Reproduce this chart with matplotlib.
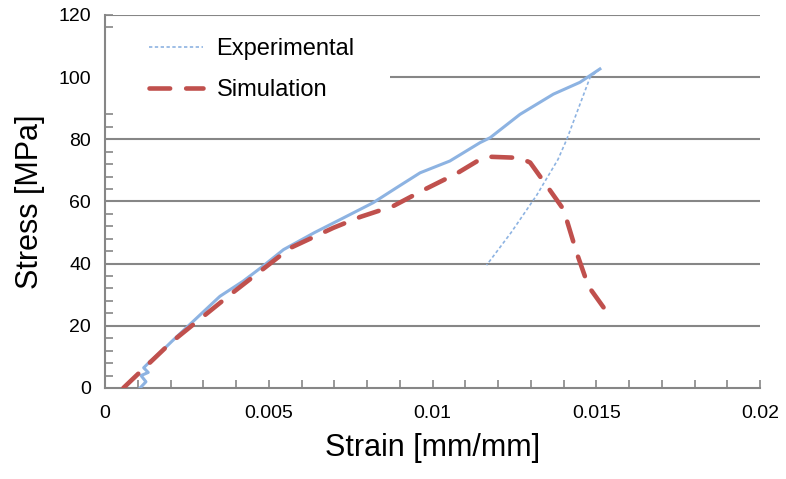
import matplotlib.pyplot as plt
from matplotlib.patches import Rectangle
from matplotlib.lines import Line2D
import numpy as np

# experimental, loading branch
exp_strain = [0.00107, 0.00125, 0.00110, 0.00132, 0.00118, 0.00137, 0.00170, 0.00204,
              0.00280, 0.00351, 0.00421, 0.00480, 0.00545, 0.00640, 0.00728, 0.00819,
              0.00890, 0.00962, 0.01053, 0.01145, 0.01176, 0.01267, 0.01369, 0.01450,
              0.01511]
exp_stress = [0.0, 2.0, 4.0, 5.0, 6.5, 8.5, 11.5, 15.0,
              22.5, 29.5, 34.3, 39.0, 44.5, 50.0, 54.7, 59.6,
              64.4, 69.2, 73.0, 78.9, 80.5, 88.0, 94.5, 98.3,
              102.6]
# experimental, unloading branch
unl_strain = [0.01511, 0.01481, 0.01410, 0.01383, 0.01318, 0.01240, 0.01165]
unl_stress = [102.6, 99.9, 80.0, 73.5, 62.0, 50.0, 39.5]

# simulation
sim_strain = [0.00056, 0.00200, 0.00382, 0.00421, 0.00565, 0.00697, 0.00779,
              0.00880, 0.00977, 0.01074, 0.01145, 0.01165, 0.01267, 0.01298,
              0.01349, 0.01400, 0.01440, 0.01476, 0.01542]
sim_stress = [0.0, 14.5, 30.0, 33.2, 45.0, 51.5, 55.0,
              58.5, 63.9, 69.0, 73.5, 74.4, 74.0, 72.5,
              65.0, 57.4, 43.5, 32.7, 23.0]

blue = '#8DB3E2'
red = '#C0504D'
grey = '#868686'
font = ['Liberation Sans Narrow', 'Liberation Sans', 'DejaVu Sans']
plt.rcParams['font.family'] = font

fig = plt.figure(figsize=(7.86, 4.79), dpi=100)
ax = fig.add_axes([0.1336, 0.19, 0.8334, 0.779])

for v in [20, 40, 60, 80, 100, 120]:
    ax.axhline(v, color=grey, lw=1.5, zorder=1)

# white box behind the legend
ax.add_patch(Rectangle((0.0, 0.74), 0.435, 0.2, transform=ax.transAxes,
                       facecolor='white', edgecolor='none', zorder=2))

ax.plot(exp_strain, exp_stress, color=blue, lw=2.2, zorder=3)
ax.plot(unl_strain, unl_stress, color=blue, lw=1.2, ls=(0, (2, 1.5)), zorder=3)
ax.plot(sim_strain, sim_stress, color=red, lw=3.3, ls=(0, (4.5, 3.5)),
        dash_capstyle='round', solid_capstyle='round', zorder=4)

h1 = Line2D([], [], color=blue, lw=1.2, ls=(0, (2, 1.5)))
h2 = Line2D([], [], color=red, lw=3.3, ls=(0, (4.5, 3.5)), dash_capstyle='round')
ax.legend([h1, h2], ['Experimental', 'Simulation'], loc='upper left',
          bbox_to_anchor=(0.035, 0.995), frameon=False, fontsize=17,
          handlelength=2.3, handletextpad=0.55, labelspacing=0.8)

ax.set_xlim(0, 0.02)
ax.set_ylim(0, 120)
ax.set_xticks(np.arange(0, 0.0201, 0.005))
ax.set_xticklabels(['0', '0.005', '0.01', '0.015', '0.02'])
ax.set_xticks(np.arange(0, 0.0201, 0.001), minor=True)
ax.set_yticks(np.arange(0, 121, 20))
ax.set_yticks(np.arange(0, 121, 4), minor=True)
ax.tick_params(which='both', direction='in', length=6, width=1.2, color=grey,
               labelsize=14)
ax.tick_params(axis='x', which='both', pad=12)
ax.tick_params(axis='y', which='both', pad=10)

for s in ['top', 'right']:
    ax.spines[s].set_visible(False)
for s in ['left', 'bottom']:
    ax.spines[s].set_color(grey)
    ax.spines[s].set_linewidth(1.5)

ax.set_xlabel('Strain [mm/mm]', fontsize=22, labelpad=8)
ax.set_ylabel('Stress [MPa]', fontsize=22, labelpad=10)

fig.savefig('out.png', dpi=100)
